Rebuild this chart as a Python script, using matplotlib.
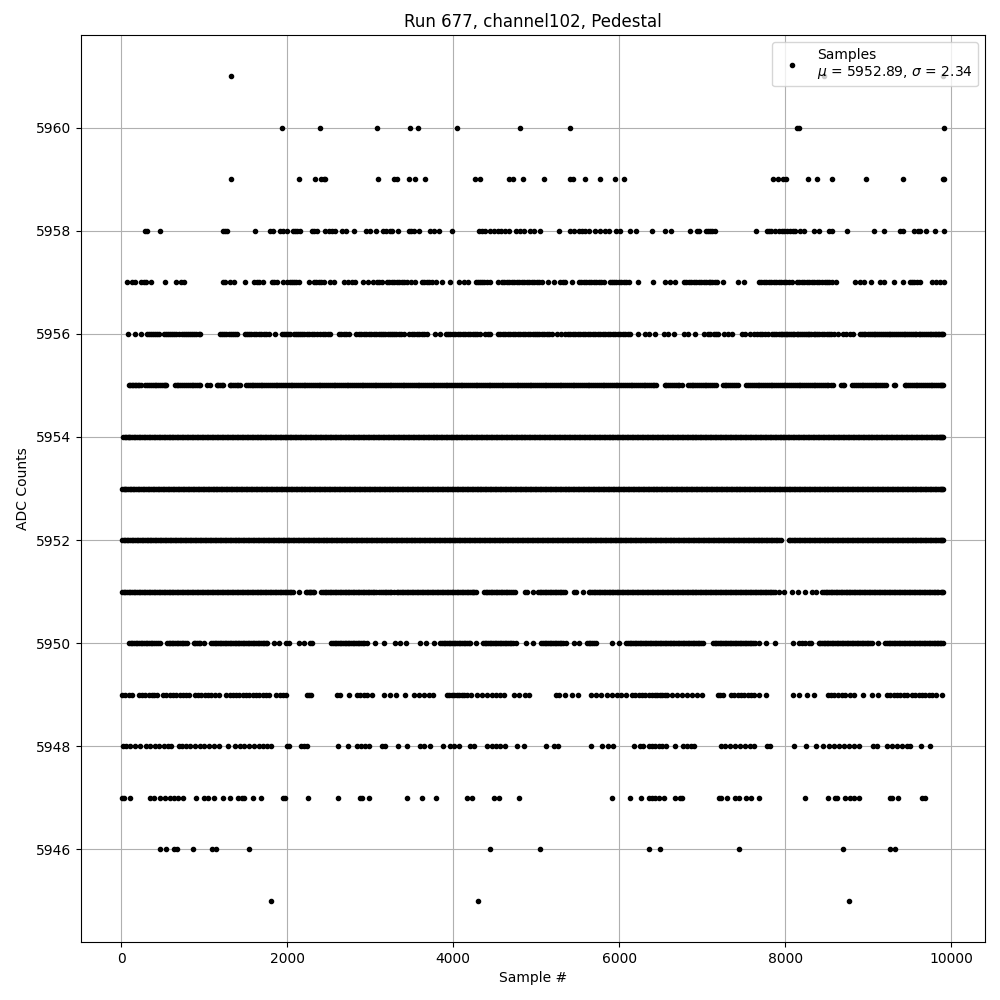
import matplotlib
matplotlib.use('Agg')
import matplotlib.pyplot as plt

# sample numbers, one list per ADC level
s5961 = [1318, 8460, 9905]
s5960 = [1932, 2390, 3077, 3480, 3570, 4040, 4799, 5402, 8145, 8170, 9907]
s5959 = [1318, 2137, 2330, 2410, 2440, 2458, 3089, 3290, 3322, 3470, 3542, 3655, 4257, 4317, 4667, 4715, 4835,
         5088, 5410, 5438, 5582, 5763, 5944, 6052, 7847, 7911, 7967, 8007, 8269, 8377, 8558, 8967, 9413, 9902, 9910]
s5958 = [282, 314, 462, 1225, 1253, 1277, 1607, 1796, 1828, 1908, 1948, 1996, 2065, 2089, 2117, 2157, 2302, 2326,
         2358, 2458, 2498, 2538, 2570, 2655, 2711, 2800, 2952, 2992, 3073, 3149, 3193, 3233, 3266, 3334, 3462, 3494,
         3530, 3582, 3723, 3771, 3827, 3980, 4305, 4345, 4386, 4446, 4490, 4534, 4574, 4627, 4675, 4755, 4799, 4847,
         4920, 4976, 5048, 5269, 5402, 5450, 5510, 5550, 5590, 5635, 5711, 5771, 5827, 5876, 5960, 6012, 6125, 6197,
         6394, 6550, 6622, 6855, 6935, 6960, 7040, 7065, 7090, 7120, 7150, 7642, 7775, 7799, 7825, 7879, 7919, 7959,
         7990, 8020, 8060, 8090, 8120, 8172, 8220, 8341, 8401, 8522, 8562, 8738, 9068, 9184, 9377, 9413, 9554, 9594,
         9626, 9694, 9799, 9907]
s5957 = [65, 129, 169, 237, 269, 302, 358, 527, 655, 719, 759, 1225, 1253, 1314, 1362, 1486, 1603, 1630, 1655, 1707,
         1816, 1845, 1876, 1944, 1996, 2037, 2060, 2085, 2110, 2137, 2258, 2326, 2350, 2378, 2408, 2438, 2510, 2567,
         2687, 2735, 2780, 2820, 2912, 2968, 3033, 3081, 3110, 3141, 3201, 3230, 3261, 3290, 3322, 3350, 3382, 3410,
         3442, 3494, 3542, 3622, 3650, 3683, 3713, 3743, 3795, 3863, 3956, 4068, 4125, 4173, 4273, 4300, 4325, 4350,
         4374, 4410, 4446, 4534, 4587, 4617, 4647, 4677, 4707, 4737, 4767, 4797, 4827, 4858, 4888, 4918, 4948, 4978,
         5008, 5038, 5068, 5136, 5209, 5289, 5320, 5349, 5430, 5510, 5540, 5570, 5600, 5631, 5661, 5691, 5721, 5751,
         5781, 5811, 5884, 5912, 5940, 5966, 5992, 6022, 6052, 6082, 6112, 6229, 6402, 6554, 6606, 6675, 6775, 6805,
         6835, 6866, 6896, 6926, 6956, 6986, 7016, 7046, 7076, 7090, 7120, 7150, 7175, 7245, 7425, 7506, 7678, 7708,
         7738, 7768, 7799, 7829, 7859, 7889, 7919, 7949, 7979, 8010, 8040, 8080, 8140, 8170, 8200, 8230, 8261, 8291,
         8321, 8351, 8381, 8411, 8441, 8472, 8502, 8532, 8562, 8610, 8843, 8903, 8951, 9036, 9136, 9192, 9305, 9413,
         9497, 9525, 9554, 9590, 9626, 9763, 9819, 9867, 9907]
s5956 = [77, 161, 237, 310, 335, 358, 385, 410, 430, 450, 510, 535, 559, 585, 611, 637, 663, 697, 731, 757, 784, 808,
         832, 856, 880, 906, 932, 945, 1193, 1217, 1241, 1267, 1294, 1320, 1346, 1370, 1394, 1486, 1510, 1535, 1565,
         1595, 1625, 1655, 1685, 1715, 1745, 1775, 1856, 1936, 1962, 1988, 2012, 2037, 2077, 2101, 2125, 2151, 2177,
         2207, 2237, 2267, 2298, 2328, 2358, 2398, 2428, 2458, 2488, 2519, 2619, 2649, 2679, 2709, 2739, 2832, 2860,
         2888, 2920, 2952, 2980, 3008, 3040, 3073, 3100, 3129, 3155, 3181, 3211, 3241, 3265, 3290, 3316, 3342, 3372,
         3402, 3470, 3502, 3532, 3562, 3592, 3622, 3652, 3683, 3783, 3843, 3916, 3940, 3964, 3994, 4024, 4054, 4084,
         4114, 4145, 4175, 4205, 4235, 4265, 4290, 4317, 4386, 4416, 4446, 4534, 4564, 4594, 4625, 4655, 4685, 4715,
         4745, 4775, 4805, 4835, 4865, 4895, 4925, 4956, 4982, 5008, 5038, 5068, 5098, 5128, 5158, 5189, 5249, 5297,
         5349, 5380, 5410, 5440, 5470, 5500, 5530, 5560, 5590, 5620, 5650, 5680, 5710, 5740, 5770, 5800, 5830, 5860,
         5890, 5920, 5950, 5980, 6010, 6040, 6070, 6100, 6130, 6225, 6313, 6353, 6426, 6534, 6582, 6655, 6775, 6823,
         6916, 7016, 7064, 7090, 7135, 7165, 7195, 7257, 7305, 7357, 7477, 7518, 7570, 7618, 7660, 7690, 7715, 7755,
         7795, 7840, 7860, 7885, 7925, 7945, 7965, 7985, 8005, 8025, 8045, 8065, 8090, 8110, 8135, 8155, 8180, 8200,
         8225, 8250, 8270, 8290, 8315, 8340, 8360, 8385, 8410, 8440, 8470, 8500, 8530, 8555, 8582, 8640, 8690, 8735,
         8775, 8810, 8900, 8920, 8945, 8965, 8990, 9015, 9040, 9065, 9085, 9110, 9130, 9150, 9175, 9200, 9220, 9245,
         9265, 9290, 9310, 9335, 9355, 9380, 9400, 9425, 9445, 9470, 9490, 9515, 9535, 9560, 9580, 9605, 9625, 9650,
         9670, 9690, 9715, 9740, 9760, 9780, 9800, 9820, 9840, 9855, 9870, 9885, 9900]
s5955 = [97, 130, 165, 200, 235, 290, 335, 380, 425, 470, 515, 545, 645, 690, 735, 780, 825, 870, 915, 950, 1037,
         1065, 1153, 1195, 1225, 1305, 1350, 1395, 1430, 1506, 1550, 1590, 1635, 1680, 1725, 1770, 1815, 1860, 1905,
         1950, 1995, 2040, 2085, 2130, 2175, 2220, 2265, 2310, 2355, 2400, 2445, 2490, 2535, 2580, 2625, 2670, 2715,
         2760, 2805, 2850, 2895, 2940, 2985, 3030, 3075, 3120, 3165, 3210, 3255, 3300, 3345, 3390, 3435, 3480, 3525,
         3570, 3615, 3660, 3705, 3750, 3795, 3840, 3885, 3930, 3975, 4020, 4065, 4110, 4155, 4200, 4245, 4290, 4335,
         4380, 4425, 4470, 4515, 4560, 4605, 4650, 4695, 4740, 4785, 4830, 4875, 4920, 4965, 5010, 5055, 5100, 5145,
         5190, 5235, 5280, 5325, 5370, 5415, 5460, 5505, 5550, 5595, 5640, 5685, 5730, 5775, 5820, 5865, 5910, 5955,
         6000, 6045, 6090, 6135, 6180, 6225, 6270, 6315, 6360, 6405, 6440, 6546, 6590, 6635, 6680, 6725, 6750, 6827,
         6870, 6915, 6960, 7005, 7050, 7090, 7135, 7165, 7248, 7290, 7335, 7380, 7425, 7530, 7575, 7620, 7665, 7710,
         7755, 7800, 7845, 7890, 7935, 7980, 8025, 8070, 8115, 8160, 8205, 8250, 8295, 8340, 8385, 8430, 8475, 8520,
         8570, 8674, 8710, 8807, 8850, 8895, 8940, 8985, 9030, 9075, 9120, 9165, 9213, 9309, 9321, 9437, 9480, 9525,
         9570, 9615, 9660, 9705, 9750, 9795, 9840, 9875, 9905,
         112, 148, 182, 218, 312, 358, 402, 448, 492, 530, 668, 712, 758, 802, 848, 892, 932, 1172, 1210, 1328, 1372,
         1412, 1528, 1570, 1612, 1658, 1702, 1748, 1792, 1838, 1882, 1928, 1972, 2018, 2062, 2108, 2152, 2198, 2242,
         2288, 2332, 2378, 2422, 2468, 2512, 2558, 2602, 2648, 2692, 2738, 2782, 2828, 2872, 2918, 2962, 3008, 3052,
         3098, 3142, 3188, 3232, 3278, 3322, 3368, 3412, 3458, 3502, 3548, 3592, 3638, 3682, 3728, 3772, 3818, 3862,
         3908, 3952, 3998, 4042, 4088, 4132, 4178, 4222, 4268, 4312, 4358, 4402, 4448, 4492, 4538, 4582, 4628, 4672,
         4718, 4762, 4808, 4852, 4898, 4942, 4988, 5032, 5078, 5122, 5168, 5212, 5258, 5302, 5348, 5392, 5438, 5482,
         5528, 5572, 5618, 5662, 5708, 5752, 5798, 5842, 5888, 5932, 5978, 6022, 6068, 6112, 6158, 6202, 6248, 6292,
         6338, 6382, 6422, 6568, 6612, 6658, 6702, 6848, 6892, 6938, 6982, 7028, 7070, 7112, 7268, 7312, 7358, 7402,
         7552, 7598, 7642, 7688, 7732, 7778, 7822, 7868, 7912, 7958, 8002, 8048, 8092, 8138, 8182, 8228, 8272, 8318,
         8362, 8408, 8452, 8498, 8545, 8692, 8828, 8872, 8918, 8962, 9008, 9052, 9098, 9142, 9190, 9458, 9502, 9548,
         9592, 9638, 9682, 9728, 9772, 9818, 9858, 9890]
s5954 = [25, 60, 95, 130, 170, 210, 250, 290, 330, 370, 410, 450, 490, 530, 570, 610, 650, 690, 730, 770, 810, 850,
         890, 930, 970, 1010, 1050, 1090, 1130, 1170, 1210, 1250, 1290, 1330, 1370, 1410, 1450, 1490, 1530, 1570,
         1610, 1650, 1690, 1730, 1770, 1810, 1850, 1890, 1930, 1970, 2010, 2050, 2090, 2130, 2170, 2210, 2250, 2290,
         2330, 2370, 2410, 2450, 2490, 2530, 2570, 2610, 2650, 2690, 2730, 2770, 2810, 2850, 2890, 2930, 2970, 3010,
         3050, 3090, 3130, 3170, 3210, 3250, 3290, 3330, 3370, 3410, 3450, 3490, 3530, 3570, 3610, 3650, 3690, 3730,
         3770, 3810, 3850, 3890, 3930, 3970, 4010, 4050, 4090, 4130, 4170, 4210, 4250, 4290, 4330, 4370, 4410, 4450,
         4490, 4530, 4570, 4610, 4650, 4690, 4730, 4770, 4810, 4850, 4890, 4930, 4970, 5010, 5050, 5090, 5130, 5170,
         5210, 5250, 5290, 5330, 5370, 5410, 5450, 5490, 5530, 5570, 5610, 5650, 5690, 5730, 5770, 5810, 5850, 5890,
         5930, 5970, 6010, 6050, 6090, 6130, 6170, 6210, 6250, 6290, 6330, 6370, 6410, 6450, 6490, 6530, 6570, 6610,
         6650, 6690, 6730, 6770, 6810, 6850, 6890, 6930, 6970, 7010, 7050, 7090, 7130, 7170, 7210, 7250, 7290, 7330,
         7370, 7410, 7450, 7490, 7530, 7570, 7610, 7650, 7690, 7730, 7770, 7810, 7850, 7890, 7930, 7970, 8010, 8050,
         8090, 8130, 8170, 8210, 8250, 8290, 8330, 8370, 8410, 8450, 8490, 8530, 8570, 8610, 8650, 8690, 8730, 8770,
         8810, 8850, 8890, 8930, 8970, 9010, 9050, 9090, 9130, 9170, 9210, 9250, 9290, 9330, 9370, 9410, 9450, 9490,
         9530, 9570, 9610, 9650, 9690, 9730, 9770, 9810, 9850, 9880, 9905,
         42, 78, 112, 150, 190, 230, 270, 310, 350, 390, 430, 470, 510, 550, 590, 630, 670, 710, 750, 790, 830, 870,
         910, 950, 990, 1030, 1070, 1110, 1150, 1190, 1230, 1270, 1310, 1350, 1390, 1430, 1470, 1510, 1550, 1590,
         1630, 1670, 1710, 1750, 1790, 1830, 1870, 1910, 1950, 1990, 2030, 2070, 2110, 2150, 2190, 2230, 2270, 2310,
         2350, 2390, 2430, 2470, 2510, 2550, 2590, 2630, 2670, 2710, 2750, 2790, 2830, 2870, 2910, 2950, 2990, 3030,
         3070, 3110, 3150, 3190, 3230, 3270, 3310, 3350, 3390, 3430, 3470, 3510, 3550, 3590, 3630, 3670, 3710, 3750,
         3790, 3830, 3870, 3910, 3950, 3990, 4030, 4070, 4110, 4150, 4190, 4230, 4270, 4310, 4350, 4390, 4430, 4470,
         4510, 4550, 4590, 4630, 4670, 4710, 4750, 4790, 4830, 4870, 4910, 4950, 4990, 5030, 5070, 5110, 5150, 5190,
         5230, 5270, 5310, 5350, 5390, 5430, 5470, 5510, 5550, 5590, 5630, 5670, 5710, 5750, 5790, 5830, 5870, 5910,
         5950, 5990, 6030, 6070, 6110, 6150, 6190, 6230, 6270, 6310, 6350, 6390, 6430, 6470, 6510, 6550, 6590, 6630,
         6670, 6710, 6750, 6790, 6830, 6870, 6910, 6950, 6990, 7030, 7070, 7110, 7150, 7190, 7230, 7270, 7310, 7350,
         7390, 7430, 7470, 7510, 7550, 7590, 7630, 7670, 7710, 7750, 7790, 7830, 7870, 7910, 7950, 7990, 8030, 8070,
         8110, 8150, 8190, 8230, 8270, 8310, 8350, 8390, 8430, 8470, 8510, 8550, 8590, 8630, 8670, 8710, 8750, 8790,
         8830, 8870, 8910, 8950, 8990, 9030, 9070, 9110, 9150, 9190, 9230, 9270, 9310, 9350, 9390, 9430, 9470, 9510,
         9550, 9590, 9630, 9670, 9710, 9750, 9790, 9830, 9865, 9892]
s5953 = [10, 45, 80, 120, 160, 200, 240, 280, 320, 360, 400, 440, 480, 520, 560, 600, 640, 680, 720, 760, 800, 840,
         880, 920, 960, 1000, 1040, 1080, 1120, 1160, 1200, 1240, 1280, 1320, 1360, 1400, 1440, 1480, 1520, 1560,
         1600, 1640, 1680, 1720, 1760, 1800, 1840, 1880, 1920, 1960, 2000, 2040, 2080, 2120, 2160, 2200, 2240, 2280,
         2320, 2360, 2400, 2440, 2480, 2520, 2560, 2600, 2640, 2680, 2720, 2760, 2800, 2840, 2880, 2920, 2960, 3000,
         3040, 3080, 3120, 3160, 3200, 3240, 3280, 3320, 3360, 3400, 3440, 3480, 3520, 3560, 3600, 3640, 3680, 3720,
         3760, 3800, 3840, 3880, 3920, 3960, 4000, 4040, 4080, 4120, 4160, 4200, 4240, 4280, 4320, 4360, 4400, 4440,
         4480, 4520, 4560, 4600, 4640, 4680, 4720, 4760, 4800, 4840, 4880, 4920, 4960, 5000, 5040, 5080, 5120, 5160,
         5200, 5240, 5280, 5320, 5360, 5400, 5440, 5480, 5520, 5560, 5600, 5640, 5680, 5720, 5760, 5800, 5840, 5880,
         5920, 5960, 6000, 6040, 6080, 6120, 6160, 6200, 6240, 6280, 6320, 6360, 6400, 6440, 6480, 6520, 6560, 6600,
         6640, 6680, 6720, 6760, 6800, 6840, 6880, 6920, 6960, 7000, 7040, 7080, 7120, 7160, 7200, 7240, 7280, 7320,
         7360, 7400, 7440, 7480, 7520, 7560, 7600, 7640, 7680, 7720, 7760, 7800, 7840, 7880, 7920, 7960, 8000, 8040,
         8080, 8120, 8160, 8200, 8240, 8280, 8320, 8360, 8400, 8440, 8480, 8520, 8560, 8600, 8640, 8680, 8720, 8760,
         8800, 8840, 8880, 8920, 8960, 9000, 9040, 9080, 9120, 9160, 9200, 9240, 9280, 9320, 9360, 9400, 9440, 9480,
         9520, 9560, 9600, 9640, 9680, 9720, 9760, 9800, 9840, 9875, 9905,
         28, 62, 100, 140, 180, 220, 260, 300, 340, 380, 420, 460, 500, 540, 580, 620, 660, 700, 740, 780, 820, 860,
         900, 940, 980, 1020, 1060, 1100, 1140, 1180, 1220, 1260, 1300, 1340, 1380, 1420, 1460, 1500, 1540, 1580,
         1620, 1660, 1700, 1740, 1780, 1820, 1860, 1900, 1940, 1980, 2020, 2060, 2100, 2140, 2180, 2220, 2260, 2300,
         2340, 2380, 2420, 2460, 2500, 2540, 2580, 2620, 2660, 2700, 2740, 2780, 2820, 2860, 2900, 2940, 2980, 3020,
         3060, 3100, 3140, 3180, 3220, 3260, 3300, 3340, 3380, 3420, 3460, 3500, 3540, 3580, 3620, 3660, 3700, 3740,
         3780, 3820, 3860, 3900, 3940, 3980, 4020, 4060, 4100, 4140, 4180, 4220, 4260, 4300, 4340, 4380, 4420, 4460,
         4500, 4540, 4580, 4620, 4660, 4700, 4740, 4780, 4820, 4860, 4900, 4940, 4980, 5020, 5060, 5100, 5140, 5180,
         5220, 5260, 5300, 5340, 5380, 5420, 5460, 5500, 5540, 5580, 5620, 5660, 5700, 5740, 5780, 5820, 5860, 5900,
         5940, 5980, 6020, 6060, 6100, 6140, 6180, 6220, 6260, 6300, 6340, 6380, 6420, 6460, 6500, 6540, 6580, 6620,
         6660, 6700, 6740, 6780, 6820, 6860, 6900, 6940, 6980, 7020, 7060, 7100, 7140, 7180, 7220, 7260, 7300, 7340,
         7380, 7420, 7460, 7500, 7540, 7580, 7620, 7660, 7700, 7740, 7780, 7820, 7860, 7900, 7940, 7980, 8020, 8060,
         8100, 8140, 8180, 8220, 8260, 8300, 8340, 8380, 8420, 8460, 8500, 8540, 8580, 8620, 8660, 8700, 8740, 8780,
         8820, 8860, 8900, 8940, 8980, 9020, 9060, 9100, 9140, 9180, 9220, 9260, 9300, 9340, 9380, 9420, 9460, 9500,
         9540, 9580, 9620, 9660, 9700, 9740, 9780, 9820, 9858, 9890]
s5952 = [15, 50, 85, 125, 165, 205, 245, 285, 325, 365, 405, 445, 485, 525, 565, 605, 645, 685, 725, 765, 805, 845,
         885, 925, 965, 1005, 1045, 1085, 1125, 1165, 1205, 1245, 1285, 1325, 1365, 1405, 1445, 1485, 1525, 1565,
         1605, 1645, 1685, 1725, 1765, 1805, 1845, 1885, 1925, 1965, 2005, 2045, 2085, 2125, 2165, 2205, 2245, 2285,
         2325, 2365, 2405, 2445, 2485, 2525, 2565, 2605, 2645, 2685, 2725, 2765, 2805, 2845, 2885, 2925, 2965, 3005,
         3045, 3085, 3125, 3165, 3205, 3245, 3285, 3325, 3365, 3405, 3445, 3485, 3525, 3565, 3605, 3645, 3685, 3725,
         3765, 3805, 3845, 3885, 3925, 3965, 4005, 4045, 4085, 4125, 4165, 4205, 4245, 4285, 4325, 4365, 4405, 4445,
         4485, 4525, 4565, 4605, 4645, 4685, 4725, 4765, 4805, 4845, 4885, 4925, 4965, 5005, 5045, 5085, 5125, 5165,
         5205, 5245, 5285, 5325, 5365, 5405, 5445, 5485, 5525, 5565, 5605, 5645, 5685, 5725, 5765, 5805, 5845, 5885,
         5925, 5965, 6005, 6045, 6085, 6125, 6165, 6205, 6245, 6285, 6325, 6365, 6405, 6445, 6485, 6525, 6565, 6605,
         6645, 6685, 6725, 6765, 6805, 6845, 6885, 6925, 6965, 7005, 7045, 7085, 7125, 7165, 7205, 7245, 7285, 7325,
         7365, 7405, 7445, 7485, 7525, 7565, 7605, 7645, 7685, 7725, 7765, 7805, 7845, 7885, 7920, 7947, 8044, 8080,
         8120, 8160, 8200, 8240, 8280, 8320, 8360, 8400, 8440, 8480, 8520, 8560, 8600, 8640, 8680, 8720, 8760, 8800,
         8840, 8880, 8920, 8960, 9000, 9040, 9080, 9120, 9160, 9200, 9240, 9280, 9320, 9360, 9400, 9440, 9480, 9520,
         9560, 9600, 9640, 9680, 9720, 9760, 9800, 9840, 9875, 9905,
         32, 68, 105, 145, 185, 225, 265, 305, 345, 385, 425, 465, 505, 545, 585, 625, 665, 705, 745, 785, 825, 865,
         905, 945, 985, 1025, 1065, 1105, 1145, 1185, 1225, 1265, 1305, 1345, 1385, 1425, 1465, 1505, 1545, 1585,
         1625, 1665, 1705, 1745, 1785, 1825, 1865, 1905, 1945, 1985, 2025, 2065, 2105, 2145, 2185, 2225, 2265, 2305,
         2345, 2385, 2425, 2465, 2505, 2545, 2585, 2625, 2665, 2705, 2745, 2785, 2825, 2865, 2905, 2945, 2985, 3025,
         3065, 3105, 3145, 3185, 3225, 3265, 3305, 3345, 3385, 3425, 3465, 3505, 3545, 3585, 3625, 3665, 3705, 3745,
         3785, 3825, 3865, 3905, 3945, 3985, 4025, 4065, 4105, 4145, 4185, 4225, 4265, 4305, 4345, 4385, 4425, 4465,
         4505, 4545, 4585, 4625, 4665, 4705, 4745, 4785, 4825, 4865, 4905, 4945, 4985, 5025, 5065, 5105, 5145, 5185,
         5225, 5265, 5305, 5345, 5385, 5425, 5465, 5505, 5545, 5585, 5625, 5665, 5705, 5745, 5785, 5825, 5865, 5905,
         5945, 5985, 6025, 6065, 6105, 6145, 6185, 6225, 6265, 6305, 6345, 6385, 6425, 6465, 6505, 6545, 6585, 6625,
         6665, 6705, 6745, 6785, 6825, 6865, 6905, 6945, 6985, 7025, 7065, 7105, 7145, 7185, 7225, 7265, 7305, 7345,
         7385, 7425, 7465, 7505, 7545, 7585, 7625, 7665, 7705, 7745, 7785, 7825, 7865, 7902, 8062, 8100, 8140, 8180,
         8220, 8260, 8300, 8340, 8380, 8420, 8460, 8500, 8540, 8580, 8620, 8660, 8700, 8740, 8780, 8820, 8860, 8900,
         8940, 8980, 9020, 9060, 9100, 9140, 9180, 9220, 9260, 9300, 9340, 9380, 9420, 9460, 9500, 9540, 9580, 9620,
         9660, 9700, 9740, 9780, 9820, 9858, 9890]
s5951 = [12, 50, 90, 130, 170, 210, 250, 290, 330, 370, 410, 450, 490, 530, 570, 610, 650, 690, 730, 770, 810, 850,
         890, 930, 970, 1010, 1050, 1090, 1130, 1170, 1210, 1250, 1290, 1330, 1370, 1410, 1450, 1490, 1530, 1570,
         1610, 1650, 1690, 1730, 1770, 1810, 1850, 1890, 1930, 1970, 2010, 2040, 2065, 2137, 2221, 2260, 2290, 2318,
         2410, 2450, 2490, 2530, 2570, 2610, 2650, 2690, 2730, 2770, 2810, 2850, 2890, 2930, 2970, 3010, 3050, 3100,
         3133, 3175, 3215, 3255, 3290, 3322, 3360, 3400, 3440, 3482, 3520, 3560, 3600, 3640, 3680, 3720, 3760, 3800,
         3840, 3880, 3920, 3960, 4000, 4040, 4080, 4120, 4160, 4200, 4240, 4270, 4366, 4410, 4450, 4490, 4530, 4570,
         4610, 4650, 4690, 4743, 4860, 4890, 4956, 5020, 5060, 5100, 5140, 5180, 5220, 5260, 5300, 5349, 5450, 5478,
         5558, 5630, 5670, 5710, 5750, 5790, 5830, 5870, 5910, 5950, 5990, 6030, 6070, 6110, 6150, 6190, 6230, 6270,
         6310, 6350, 6390, 6430, 6470, 6510, 6550, 6590, 6630, 6670, 6710, 6750, 6790, 6830, 6870, 6910, 6950, 6990,
         7030, 7070, 7110, 7150, 7190, 7230, 7270, 7310, 7350, 7390, 7430, 7470, 7510, 7550, 7590, 7630, 7670, 7710,
         7750, 7790, 7830, 7870, 7923, 7979, 8080, 8148, 8240, 8321, 8373, 8445, 8485, 8525, 8565, 8605, 8645, 8685,
         8725, 8765, 8805, 8845, 8885, 8925, 8965, 9005, 9045, 9085, 9125, 9165, 9205, 9245, 9285, 9325, 9365, 9405,
         9445, 9485, 9525, 9565, 9605, 9645, 9685, 9725, 9765, 9805, 9845, 9870, 9896,
         30, 70, 110, 150, 190, 230, 270, 310, 350, 390, 430, 470, 510, 550, 590, 630, 670, 710, 750, 790, 830, 870,
         910, 950, 990, 1030, 1070, 1110, 1150, 1190, 1230, 1270, 1310, 1350, 1390, 1430, 1470, 1510, 1550, 1590,
         1630, 1670, 1710, 1750, 1790, 1830, 1870, 1910, 1950, 1990, 2030, 2240, 2275, 2305, 2430, 2470, 2510, 2550,
         2590, 2630, 2670, 2710, 2750, 2790, 2830, 2870, 2910, 2950, 2990, 3030, 3075, 3155, 3195, 3235, 3340, 3380,
         3420, 3460, 3500, 3540, 3580, 3620, 3660, 3700, 3740, 3780, 3820, 3860, 3900, 3940, 3980, 4020, 4060, 4100,
         4140, 4180, 4220, 4255, 4390, 4430, 4470, 4510, 4550, 4590, 4630, 4670, 4715, 5040, 5080, 5120, 5160, 5200,
         5240, 5280, 5320, 5650, 5690, 5730, 5770, 5810, 5850, 5890, 5930, 5970, 6010, 6050, 6090, 6130, 6170, 6210,
         6250, 6290, 6330, 6370, 6410, 6450, 6490, 6530, 6570, 6610, 6650, 6690, 6730, 6770, 6810, 6850, 6890, 6930,
         6970, 7010, 7050, 7090, 7130, 7170, 7210, 7250, 7290, 7330, 7370, 7410, 7450, 7490, 7530, 7570, 7610, 7650,
         7690, 7730, 7770, 7810, 7850, 8465, 8505, 8545, 8585, 8625, 8665, 8705, 8745, 8785, 8825, 8865, 8905, 8945,
         8985, 9025, 9065, 9105, 9145, 9185, 9225, 9265, 9305, 9345, 9385, 9425, 9465, 9505, 9545, 9585, 9625, 9665,
         9705, 9745, 9785, 9825, 9882]
s5950 = [93, 135, 175, 215, 255, 295, 335, 375, 415, 440, 466, 551, 590, 630, 670, 710, 750, 792, 876, 915, 955, 992,
         1085, 1125, 1165, 1205, 1245, 1285, 1325, 1365, 1405, 1445, 1485, 1525, 1565, 1605, 1645, 1685, 1725, 1756,
         1836, 1896, 1988, 2024, 2137, 2197, 2270, 2298, 2531, 2570, 2610, 2650, 2690, 2730, 2770, 2810, 2850, 2890,
         2930, 2956, 3061, 3161, 3302, 3362, 3434, 3594, 3675, 3771, 3843, 3885, 3925, 3965, 4005, 4045, 4085, 4125,
         4165, 4205, 4277, 4357, 4400, 4440, 4480, 4520, 4560, 4600, 4640, 4680, 4720, 4759, 4876, 4956, 5056, 5100,
         5140, 5180, 5220, 5260, 5300, 5357, 5450, 5510, 5610, 5650, 5690, 5723, 5912, 5992, 6084, 6125, 6165, 6205,
         6245, 6285, 6325, 6365, 6405, 6445, 6485, 6525, 6565, 6605, 6645, 6685, 6725, 6765, 6805, 6845, 6885, 6925,
         6965, 7008, 7128, 7170, 7210, 7250, 7290, 7330, 7370, 7410, 7450, 7490, 7530, 7570, 7610, 7640, 7678, 7771,
         7871, 8088, 8160, 8200, 8240, 8280, 8309, 8401, 8440, 8480, 8520, 8560, 8600, 8640, 8680, 8720, 8760, 8800,
         8840, 8880, 8920, 8960, 9000, 9044, 9112, 9204, 9245, 9285, 9325, 9365, 9405, 9445, 9485, 9525, 9565, 9605,
         9645, 9685, 9725, 9765, 9805, 9845, 9880, 9905,
         115, 155, 195, 235, 275, 315, 355, 395, 570, 610, 650, 690, 730, 770, 895, 935, 1105, 1145, 1185, 1225, 1265,
         1305, 1345, 1385, 1425, 1465, 1505, 1545, 1585, 1625, 1665, 1705, 1740, 2550, 2590, 2630, 2670, 2710, 2750,
         2790, 2830, 2870, 2910, 3865, 3905, 3945, 3985, 4025, 4065, 4105, 4145, 4185, 4380, 4420, 4460, 4500, 4540,
         4580, 4620, 4660, 4700, 5080, 5120, 5160, 5200, 5240, 5280, 5320, 5630, 5670, 6105, 6145, 6185, 6225, 6265,
         6305, 6345, 6385, 6425, 6465, 6505, 6545, 6585, 6625, 6665, 6705, 6745, 6785, 6825, 6865, 6905, 6945, 6985,
         7150, 7190, 7230, 7270, 7310, 7350, 7390, 7430, 7470, 7510, 7550, 7590, 8420, 8460, 8500, 8540, 8580, 8620,
         8660, 8700, 8740, 8780, 8820, 8860, 8900, 8940, 8980, 9020, 9225, 9265, 9305, 9345, 9385, 9425, 9465, 9505,
         9545, 9585, 9625, 9665, 9705, 9745, 9785, 9825, 9862]
s5949 = [12, 50, 90, 125, 209, 250, 290, 330, 370, 400, 430, 503, 545, 585, 625, 665, 705, 745, 780, 812, 884, 925,
         965, 1005, 1045, 1085, 1125, 1173, 1266, 1305, 1345, 1385, 1425, 1465, 1505, 1545, 1585, 1625, 1665, 1705,
         1740, 1776, 1868, 1910, 1950, 1988, 2237, 2262, 2286, 2599, 2639, 2739, 2840, 2880, 2920, 2960, 3020, 3161,
         3233, 3314, 3422, 3522, 3582, 3643, 3703, 3755, 3924, 3954, 3984, 4014, 4044, 4074, 4104, 4135, 4165, 4217,
         4285, 4345, 4406, 4466, 4518, 4566, 4606, 4727, 4787, 4860, 4908, 5237, 5269, 5349, 5430, 5498, 5663, 5723,
         5779, 5851, 5912, 5972, 6020, 6085, 6153, 6195, 6235, 6275, 6315, 6355, 6395, 6425, 6455, 6485, 6515, 6545,
         6574, 6635, 6695, 6755, 6815, 6875, 6935, 6996, 7184, 7216, 7248, 7345, 7385, 7425, 7465, 7505, 7545, 7585,
         7625, 7678, 7763, 8088, 8160, 8261, 8341, 8510, 8550, 8590, 8630, 8682, 8722, 8783, 8823, 8931, 9044, 9120,
         9224, 9265, 9305, 9345, 9385, 9425, 9466, 9526, 9566, 9606, 9646, 9686, 9726, 9767, 9819, 9887]
s5948 = [21, 57, 101, 169, 221, 302, 350, 410, 450, 519, 559, 599, 691, 731, 784, 824, 892, 944, 992, 1053, 1121,
         1173, 1286, 1374, 1426, 1474, 1535, 1595, 1655, 1707, 1756, 1808, 2000, 2026, 2165, 2200, 2237, 2611, 2727,
         2840, 2888, 2940, 2980, 3145, 3175, 3330, 3442, 3602, 3651, 3715, 3872, 3964, 4004, 4064, 4197, 4253, 4406,
         4466, 4518, 4566, 4627, 4767, 4847, 5113, 5217, 5261, 5655, 5787, 5859, 5920, 6181, 6253, 6281, 6353, 6394,
         6434, 6474, 6514, 6566, 6675, 6767, 6815, 6863, 6903, 7224, 7277, 7337, 7397, 7457, 7518, 7578, 7618, 7779,
         7819, 8100, 8245, 8365, 8449, 8522, 8582, 8642, 8702, 8763, 8823, 8883, 9052, 9104, 9224, 9285, 9345, 9405,
         9466, 9506, 9634, 9738]
s5947 = [5, 37, 101, 342, 390, 462, 531, 583, 639, 683, 743, 896, 992, 1041, 1113, 1221, 1306, 1402, 1454, 1482,
         1587, 1683, 1950, 1970, 2245, 2607, 2872, 2904, 2980, 3438, 3619, 3787, 4161, 4221, 4486, 4546, 4787, 5908,
         6125, 6257, 6353, 6394, 6434, 6474, 6534, 6667, 6727, 6755, 7196, 7224, 7297, 7389, 7437, 7530, 7586, 7678,
         8233, 8509, 8600, 8625, 8714, 8783, 8823, 8883, 9256, 9280, 9361, 9646, 9686]
s5946 = [462, 539, 631, 671, 864, 1089, 1141, 1539, 4438, 5040, 6353, 6486, 7437, 8690, 9265, 9325]
s5945 = [1800, 4293, 8763]

levels = [5961, 5960, 5959, 5958, 5957, 5956, 5955, 5954, 5953, 5952, 5951, 5950, 5949, 5948, 5947, 5946, 5945]
samples = [s5961, s5960, s5959, s5958, s5957, s5956, s5955, s5954, s5953, s5952, s5951, s5950, s5949, s5948, s5947,
           s5946, s5945]

x = []
y = []
for level, s in zip(levels, samples):
    x += s
    y += [level] * len(s)

fig, ax = plt.subplots(figsize=(10, 10))
ax.plot(x, y, 'k.', label='Samples\n$\\mu$ = 5952.89, $\\sigma$ = 2.34')
ax.set_title('Run 677, channel102, Pedestal')
ax.set_xlabel('Sample #')
ax.set_ylabel('ADC Counts')
ax.legend(loc='upper right')
ax.grid()
fig.subplots_adjust(left=0.0805, right=0.985, top=0.965, bottom=0.058)
fig.savefig('out.png', dpi=100)
